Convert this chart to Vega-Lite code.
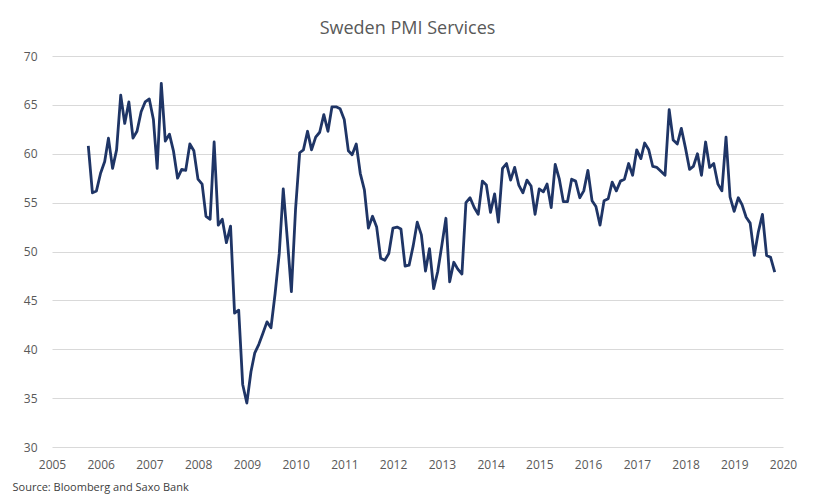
{
  "$schema": "https://vega.github.io/schema/vega-lite/v6.json",
  "width": 731,
  "height": 391,
  "autosize": "none",
  "padding": {"left": 52, "top": 56, "right": 33, "bottom": 52},
  "background": "white",
  "title": {"text": "Sweden PMI Services", "font": "Open Sans", "fontSize": 18, "fontWeight": "normal", "color": "#595959", "anchor": "middle", "dx": -10, "offset": 12},
  "config": {"view": {"stroke": null}, "font": "Open Sans"},
  "data": {"values": [
    {"date": "2005-09-30", "value": 60.8}, {"date": "2005-10-31", "value": 56.0}, {"date": "2005-11-30", "value": 56.2}, {"date": "2005-12-31", "value": 58.0},
    {"date": "2006-01-31", "value": 59.2}, {"date": "2006-02-28", "value": 61.6}, {"date": "2006-03-31", "value": 58.5}, {"date": "2006-04-30", "value": 60.4}, {"date": "2006-05-31", "value": 66.0}, {"date": "2006-06-30", "value": 63.1}, {"date": "2006-07-31", "value": 65.3}, {"date": "2006-08-31", "value": 61.6}, {"date": "2006-09-30", "value": 62.3}, {"date": "2006-10-31", "value": 64.3}, {"date": "2006-11-30", "value": 65.3}, {"date": "2006-12-31", "value": 65.6},
    {"date": "2007-01-31", "value": 63.5}, {"date": "2007-02-28", "value": 58.5}, {"date": "2007-03-31", "value": 67.2}, {"date": "2007-04-30", "value": 61.3}, {"date": "2007-05-31", "value": 62.0}, {"date": "2007-06-30", "value": 60.3}, {"date": "2007-07-31", "value": 57.5}, {"date": "2007-08-31", "value": 58.4}, {"date": "2007-09-30", "value": 58.3}, {"date": "2007-10-31", "value": 61.0}, {"date": "2007-11-30", "value": 60.3}, {"date": "2007-12-31", "value": 57.4},
    {"date": "2008-01-31", "value": 56.9}, {"date": "2008-02-29", "value": 53.6}, {"date": "2008-03-31", "value": 53.3}, {"date": "2008-04-30", "value": 61.2}, {"date": "2008-05-31", "value": 52.7}, {"date": "2008-06-30", "value": 53.3}, {"date": "2008-07-31", "value": 50.9}, {"date": "2008-08-31", "value": 52.6}, {"date": "2008-09-30", "value": 43.7}, {"date": "2008-10-31", "value": 44.0}, {"date": "2008-11-30", "value": 36.4}, {"date": "2008-12-31", "value": 34.5},
    {"date": "2009-01-31", "value": 37.7}, {"date": "2009-02-28", "value": 39.6}, {"date": "2009-03-31", "value": 40.5}, {"date": "2009-04-30", "value": 41.6}, {"date": "2009-05-31", "value": 42.8}, {"date": "2009-06-30", "value": 42.2}, {"date": "2009-07-31", "value": 45.7}, {"date": "2009-08-31", "value": 49.8}, {"date": "2009-09-30", "value": 56.4}, {"date": "2009-10-31", "value": 51.2}, {"date": "2009-11-30", "value": 45.9}, {"date": "2009-12-31", "value": 54.3},
    {"date": "2010-01-31", "value": 60.1}, {"date": "2010-02-28", "value": 60.4}, {"date": "2010-03-31", "value": 62.3}, {"date": "2010-04-30", "value": 60.4}, {"date": "2010-05-31", "value": 61.7}, {"date": "2010-06-30", "value": 62.2}, {"date": "2010-07-31", "value": 64.0}, {"date": "2010-08-31", "value": 62.3}, {"date": "2010-09-30", "value": 64.8}, {"date": "2010-10-31", "value": 64.8}, {"date": "2010-11-30", "value": 64.6}, {"date": "2010-12-31", "value": 63.5},
    {"date": "2011-01-31", "value": 60.3}, {"date": "2011-02-28", "value": 59.9}, {"date": "2011-03-31", "value": 61.0}, {"date": "2011-04-30", "value": 58.0}, {"date": "2011-05-31", "value": 56.3}, {"date": "2011-06-30", "value": 52.4}, {"date": "2011-07-31", "value": 53.6}, {"date": "2011-08-31", "value": 52.5}, {"date": "2011-09-30", "value": 49.3}, {"date": "2011-10-31", "value": 49.1}, {"date": "2011-11-30", "value": 49.8}, {"date": "2011-12-31", "value": 52.4},
    {"date": "2012-01-31", "value": 52.5}, {"date": "2012-02-29", "value": 52.3}, {"date": "2012-03-31", "value": 48.5}, {"date": "2012-04-30", "value": 48.6}, {"date": "2012-05-31", "value": 50.6}, {"date": "2012-06-30", "value": 53.0}, {"date": "2012-07-31", "value": 51.7}, {"date": "2012-08-31", "value": 48.0}, {"date": "2012-09-30", "value": 50.3}, {"date": "2012-10-31", "value": 46.2}, {"date": "2012-11-30", "value": 47.9}, {"date": "2012-12-31", "value": 50.6},
    {"date": "2013-01-31", "value": 53.4}, {"date": "2013-02-28", "value": 46.9}, {"date": "2013-03-31", "value": 48.9}, {"date": "2013-04-30", "value": 48.2}, {"date": "2013-05-31", "value": 47.7}, {"date": "2013-06-30", "value": 55.0}, {"date": "2013-07-31", "value": 55.5}, {"date": "2013-08-31", "value": 54.5}, {"date": "2013-09-30", "value": 53.8}, {"date": "2013-10-31", "value": 57.2}, {"date": "2013-11-30", "value": 56.8}, {"date": "2013-12-31", "value": 54.0},
    {"date": "2014-01-31", "value": 55.9}, {"date": "2014-02-28", "value": 53.0}, {"date": "2014-03-31", "value": 58.5}, {"date": "2014-04-30", "value": 59.0}, {"date": "2014-05-31", "value": 57.3}, {"date": "2014-06-30", "value": 58.6}, {"date": "2014-07-31", "value": 56.8}, {"date": "2014-08-31", "value": 56.0}, {"date": "2014-09-30", "value": 57.3}, {"date": "2014-10-31", "value": 56.7}, {"date": "2014-11-30", "value": 53.8}, {"date": "2014-12-31", "value": 56.4},
    {"date": "2015-01-31", "value": 56.1}, {"date": "2015-02-28", "value": 56.9}, {"date": "2015-03-31", "value": 54.5}, {"date": "2015-04-30", "value": 58.9}, {"date": "2015-05-31", "value": 57.4}, {"date": "2015-06-30", "value": 55.1}, {"date": "2015-07-31", "value": 55.1}, {"date": "2015-08-31", "value": 57.4}, {"date": "2015-09-30", "value": 57.2}, {"date": "2015-10-31", "value": 55.5}, {"date": "2015-11-30", "value": 56.2}, {"date": "2015-12-31", "value": 58.3},
    {"date": "2016-01-31", "value": 55.2}, {"date": "2016-02-29", "value": 54.6}, {"date": "2016-03-31", "value": 52.7}, {"date": "2016-04-30", "value": 55.2}, {"date": "2016-05-31", "value": 55.4}, {"date": "2016-06-30", "value": 57.1}, {"date": "2016-07-31", "value": 56.2}, {"date": "2016-08-31", "value": 57.2}, {"date": "2016-09-30", "value": 57.4}, {"date": "2016-10-31", "value": 59.0}, {"date": "2016-11-30", "value": 57.8}, {"date": "2016-12-31", "value": 60.4},
    {"date": "2017-01-31", "value": 59.5}, {"date": "2017-02-28", "value": 61.1}, {"date": "2017-03-31", "value": 60.4}, {"date": "2017-04-30", "value": 58.7}, {"date": "2017-05-31", "value": 58.6}, {"date": "2017-06-30", "value": 58.2}, {"date": "2017-07-31", "value": 57.8}, {"date": "2017-08-31", "value": 64.5}, {"date": "2017-09-30", "value": 61.4}, {"date": "2017-10-31", "value": 61.0}, {"date": "2017-11-30", "value": 62.6}, {"date": "2017-12-31", "value": 60.6},
    {"date": "2018-01-31", "value": 58.4}, {"date": "2018-02-28", "value": 58.7}, {"date": "2018-03-31", "value": 60.0}, {"date": "2018-04-30", "value": 57.8}, {"date": "2018-05-31", "value": 61.2}, {"date": "2018-06-30", "value": 58.6}, {"date": "2018-07-31", "value": 59.0}, {"date": "2018-08-31", "value": 56.9}, {"date": "2018-09-30", "value": 56.2}, {"date": "2018-10-31", "value": 61.7}, {"date": "2018-11-30", "value": 55.6}, {"date": "2018-12-31", "value": 54.1},
    {"date": "2019-01-31", "value": 55.5}, {"date": "2019-02-28", "value": 54.8}, {"date": "2019-03-31", "value": 53.5}, {"date": "2019-04-30", "value": 52.9}, {"date": "2019-05-31", "value": 49.6}, {"date": "2019-06-30", "value": 52.0}, {"date": "2019-07-31", "value": 53.8}, {"date": "2019-08-31", "value": 49.6}, {"date": "2019-09-30", "value": 49.4}, {"date": "2019-10-31", "value": 47.9}
  ]},
  "mark": {"type": "line", "color": "#1f3566", "strokeWidth": 2.8, "strokeJoin": "round"},
  "encoding": {
    "x": {
      "field": "date", "type": "temporal",
      "scale": {"domain": [{"year": 2005, "month": 1, "date": 1}, {"year": 2020, "month": 1, "date": 1}]},
      "axis": {
        "values": [{"year": 2005}, {"year": 2006}, {"year": 2007}, {"year": 2008}, {"year": 2009}, {"year": 2010}, {"year": 2011}, {"year": 2012}, {"year": 2013}, {"year": 2014}, {"year": 2015}, {"year": 2016}, {"year": 2017}, {"year": 2018}, {"year": 2019}, {"year": 2020}],
        "format": "%Y", "grid": false, "domain": false, "ticks": false, "labelFlush": false, "labelOverlap": false,
        "labelPadding": 12, "labelFontSize": 12, "labelColor": "#595959", "labelFont": "Open Sans",
        "title": "Source: Bloomberg and Saxo Bank", "titleFont": "Open Sans", "titleFontSize": 11, "titleFontWeight": "normal", "titleColor": "#404040",
        "titleAnchor": "start", "titleAlign": "left", "titleBaseline": "alphabetic", "titleX": -40, "titleY": 43
      }
    },
    "y": {
      "field": "value", "type": "quantitative",
      "scale": {"domain": [30, 70], "nice": false, "zero": false},
      "axis": {
        "values": [30, 35, 40, 45, 50, 55, 60, 65, 70],
        "grid": true, "gridColor": "#d9d9d9", "gridWidth": 1, "domain": false, "ticks": false,
        "labelPadding": 15, "labelFontSize": 12, "labelColor": "#595959", "labelFont": "Open Sans", "title": null
      }
    }
  }
}
